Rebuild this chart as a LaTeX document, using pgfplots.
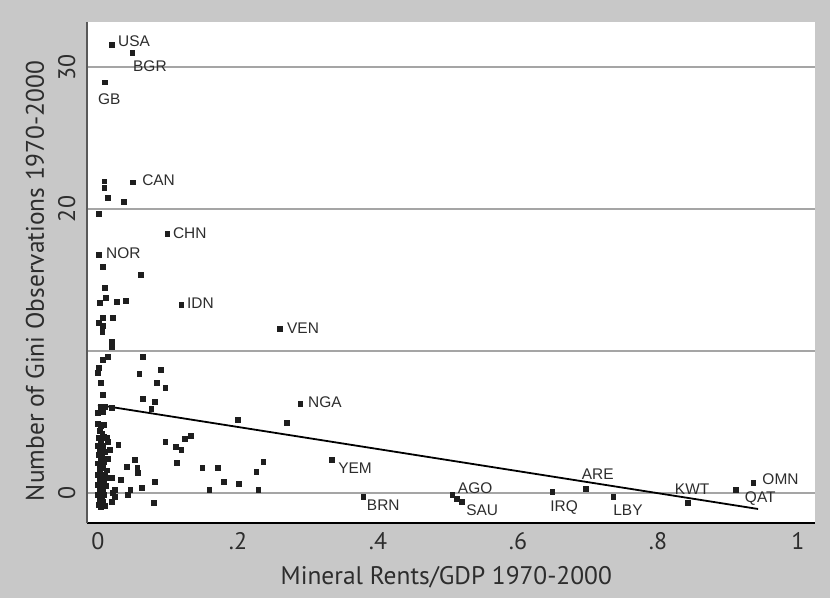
\documentclass[border=0pt]{standalone}
\usepackage{fontspec}
\setmainfont{PT Sans}
\newfontfamily\labfont{Liberation Sans}
\usepackage{pgfplots}
\usepackage{pgfplotstable}
\pgfplotsset{compat=1.18}
\definecolor{bg}{RGB}{200,200,200}
\definecolor{gridc}{RGB}{165,165,165}
\definecolor{txt}{RGB}{45,45,45}
\definecolor{ptc}{RGB}{30,30,30}
\tikzset{lab/.style={font=\labfont\fontsize{15.5}{15.5}\selectfont, inner sep=0pt, text=txt, anchor=west}}
\pgfplotstableread{
x y
0.020 31.55
0.049 30.98
0.010 28.93
0.009 21.95
0.009 21.52
0.014 20.82
0.050 21.88
0.037 20.54
0.001 19.69
0.099 18.28
0.001 16.80
0.007 15.95
0.061 15.38
0.010 14.47
0.011 13.76
0.003 13.41
0.027 13.48
0.040 13.55
0.119 13.27
0.260 11.57
0.007 12.35
0.021 12.35
0.001 12.00
0.007 11.79
0.006 11.36
0.020 10.66
0.020 10.30
0.014 9.60
0.064 9.60
0.007 9.39
0.001 8.82
0.059 8.40
0.090 8.68
0.000 8.47
0.004 7.76
0.084 7.76
0.096 7.41
0.007 6.92
0.064 6.63
0.081 6.42
0.289 6.28
0.004 6.07
0.010 6.07
0.020 6.00
0.076 5.93
0.000 5.65
0.007 5.72
0.200 5.15
0.270 4.94
0.014 3.60
0.029 3.39
0.017 3.03
0.096 3.60
0.111 3.25
0.119 3.03
0.124 3.81
0.133 4.02
0.113 2.12
0.053 2.33
0.041 1.83
0.056 1.76
0.057 1.41
0.149 1.76
0.171 1.76
0.226 1.48
0.236 2.19
0.020 1.06
0.033 0.92
0.081 0.78
0.180 0.78
0.201 0.64
0.024 0.21
0.046 0.21
0.063 0.35
0.159 0.21
0.229 0.21
0.043 -0.14
0.021 0.00
0.020 -0.64
0.024 -0.28
0.080 -0.71
0.334 2.33
0.379 -0.28
0.506 -0.14
0.513 -0.42
0.520 -0.64
0.649 0.07
0.697 0.28
0.736 -0.28
0.843 -0.71
0.911 0.21
0.936 0.71
0.000 4.9
0.004 4.7
0.008 4.8
0.002 4.4
0.006 4.2
0.001 3.9
0.009 4.0
0.004 3.6
0.000 3.3
0.007 3.3
0.003 3.0
0.010 2.9
0.001 2.7
0.006 2.6
0.004 2.3
0.000 2.1
0.009 2.2
0.002 1.9
0.007 1.8
0.012 1.6
0.003 1.5
0.000 1.3
0.006 1.2
0.010 1.3
0.002 1.0
0.005 0.8
0.008 0.9
0.000 0.6
0.004 0.5
0.011 0.5
0.002 0.2
0.007 0.2
0.000 -0.1
0.005 -0.2
0.009 -0.1
0.003 -0.5
0.007 -0.6
0.001 -0.8
0.010 -0.9
0.004 -1.0
0.013 3.9
0.014 2.4
0.015 1.1
}\pts
\begin{document}
\begin{tikzpicture}
\fill[bg] (0,0) rectangle (830bp,598bp);
\useasboundingbox (0,0) rectangle (830bp,598bp);
\begin{axis}[
  at={(87bp,75bp)}, anchor=south west,
  scale only axis, width=728bp, height=501bp,
  xmin=-0.0157, xmax=1.0243, ymin=-2.117, ymax=33.17,
  axis x line*=bottom, axis y line*=left,
  axis line style={-},
  x axis line style={-, black, line width=1.8bp},
  y axis line style={-, black!65, line width=1.4bp},
  axis background/.style={fill=white},
  xtick={0,0.2,0.4,0.6,0.8,1}, xticklabels={0,.2,.4,.6,.8,1},
  ytick={0,10,20,30}, yticklabels={0,,20,30},
  major tick length=0pt,
  ymajorgrids, grid style={gridc, line width=1.2bp},
  tick label style={font=\fontsize{24}{24}\selectfont, text=txt},
  xticklabel style={yshift=-6bp},
  yticklabel style={rotate=90, anchor=south, yshift=8bp},
  xlabel={Mineral Rents/GDP 1970-2000},
  ylabel={Number of Gini Observations 1970-2000},
  label style={font=\fontsize{25.5}{25.5}\selectfont, text=txt},
  xlabel style={at={(axis description cs:0.4935,-0.108)}, anchor=center},
  ylabel style={at={(axis description cs:-0.0714,0.483)}, anchor=center},
  clip=false,
]
\addplot[only marks, mark=square*, mark size=2.4bp, ptc, mark options={draw=ptc, fill=ptc}] table {\pts};
\addplot[black, line width=1.8bp, no marks] coordinates {(0,6.2) (0.943,-1.13)};
\node[lab] at (axis cs:0.0286,31.83) {USA};
\node[lab] at (axis cs:0.050,30.03) {BGR};
\node[lab] at (axis cs:0.000,27.70) {GB};
\node[lab] at (axis cs:0.063,22.02) {CAN};
\node[lab] at (axis cs:0.107,18.28) {CHN};
\node[lab] at (axis cs:0.0114,16.87) {NOR};
\node[lab] at (axis cs:0.127,13.34) {IDN};
\node[lab] at (axis cs:0.270,11.57) {VEN};
\node[lab] at (axis cs:0.300,6.39) {NGA};
\node[lab] at (axis cs:0.343,1.73) {YEM};
\node[lab] at (axis cs:0.384,-0.88) {BRN};
\node[lab] at (axis cs:0.514,0.32) {AGO};
\node[lab] at (axis cs:0.526,-1.20) {SAU};
\node[lab] at (axis cs:0.646,-1.02) {IRQ};
\node[lab] at (axis cs:0.691,1.34) {ARE};
\node[lab] at (axis cs:0.736,-1.20) {LBY};
\node[lab] at (axis cs:0.824,0.28) {KWT};
\node[lab] at (axis cs:0.924,-0.42) {QAT};
\node[lab] at (axis cs:0.949,0.99) {OMN};
\end{axis}
\end{tikzpicture}
\end{document}
